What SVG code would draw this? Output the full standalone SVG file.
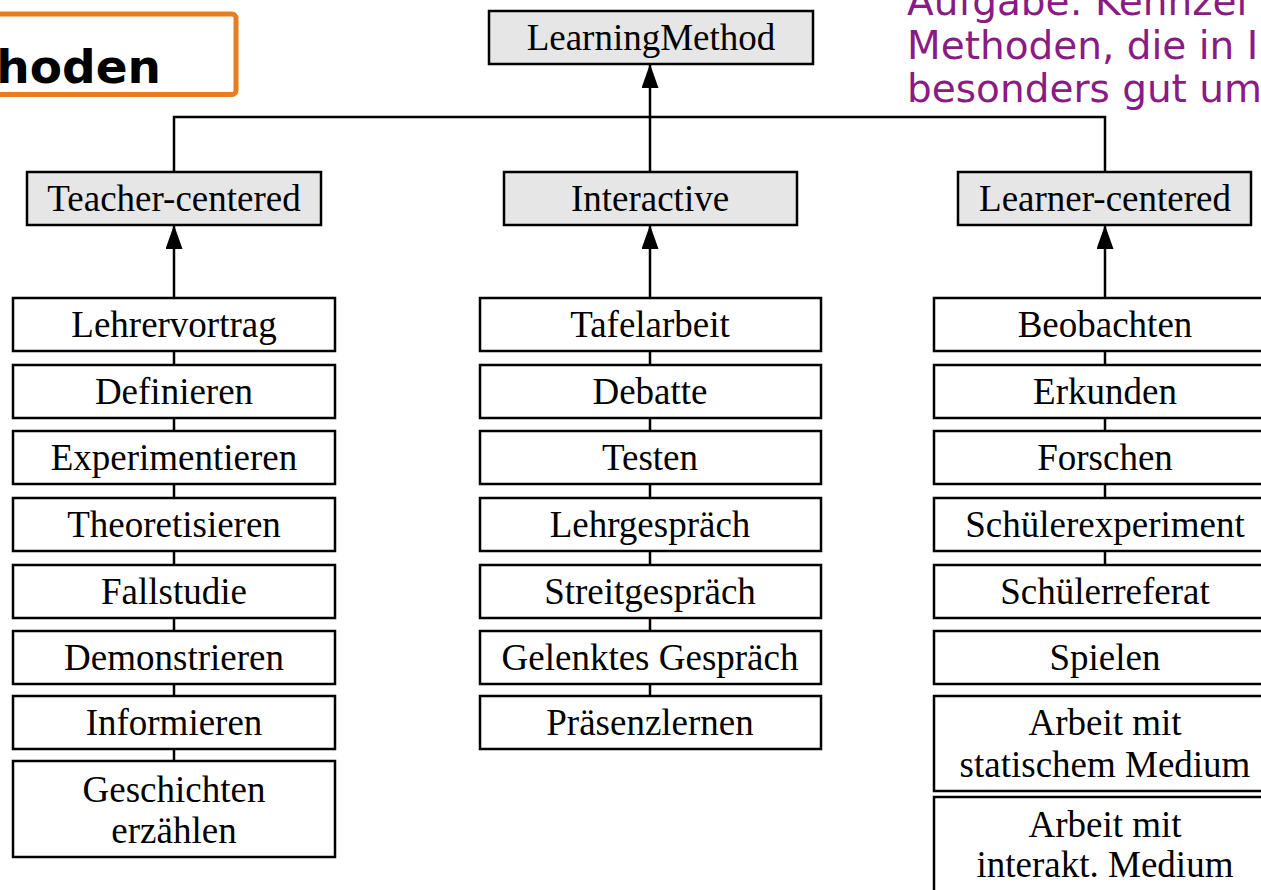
<svg xmlns="http://www.w3.org/2000/svg" width="1261" height="890" viewBox="0 0 1261 890">
<defs>
<style>
.box{fill:#ffffff;stroke:#000;stroke-width:2.5}
.cat{fill:#e6e6e6;stroke:#000;stroke-width:2.5}
.t{font-family:"Liberation Serif","Times New Roman",serif;font-size:37px;fill:#000;text-anchor:middle}
.ln{fill:none;stroke:#000;stroke-width:2.5}
.pur{font-family:"DejaVu Sans",Verdana,sans-serif;font-size:39px;fill:#8a1a84}
</style>
<marker id="arr" viewBox="0 0 24 17" markerWidth="24" markerHeight="17" refX="24" refY="8.5" orient="auto" markerUnits="userSpaceOnUse">
<path d="M0,0 L24,8.5 L0,17 z" fill="#000"/>
</marker>
</defs>
<rect width="1261" height="890" fill="#fff"/>

<g id="title">
<rect x="-20" y="14" width="256" height="80.5" rx="4" fill="none" stroke="#e87d1e" stroke-width="5"/>
<text x="161" y="83" font-family="'DejaVu Sans',Verdana,sans-serif" font-weight="bold" font-size="47" text-anchor="end" fill="#000">hoden</text>
</g>

<g id="task">
<text class="pur" x="907" y="15">Aufgabe: Kennzei</text>
<text class="pur" x="907" y="59">Methoden, die in I</text>
<text class="pur" x="907" y="102">besonders gut um</text>
</g>

<g id="connectors">
<path class="ln" d="M174,172 V117 H1105 V172"/>
<line class="ln" x1="650" y1="172" x2="650" y2="64" marker-end="url(#arr)"/>
<line class="ln" x1="174" y1="298" x2="174" y2="225" marker-end="url(#arr)"/>
<line class="ln" x1="650" y1="298" x2="650" y2="225" marker-end="url(#arr)"/>
<line class="ln" x1="1105" y1="298" x2="1105" y2="225" marker-end="url(#arr)"/>
<path class="ln" d="M174,351 V365 M174,418 V431 M174,484 V498 M174,551 V565 M174,618 V631 M174,684 V696 M174,749 V761"/>
<path class="ln" d="M650,351 V365 M650,418 V431 M650,484 V498 M650,551 V565 M650,618 V631 M650,684 V696"/>
<path class="ln" d="M1105,351 V365 M1105,418 V431 M1105,484 V498 M1105,551 V565"/>
</g>

<g id="learningmethod"><rect class="cat" x="489" y="11" width="324" height="53"/><text class="t" x="651" y="50">LearningMethod</text></g>
<g id="teacher-centered"><rect class="cat" x="27" y="172" width="294" height="53"/><text class="t" x="174" y="211">Teacher-centered</text></g>
<g id="interactive"><rect class="cat" x="504" y="172" width="293" height="53"/><text class="t" x="650" y="211">Interactive</text></g>
<g id="learner-centered"><rect class="cat" x="958" y="172" width="293" height="53"/><text class="t" x="1105" y="211">Learner-centered</text></g>

<g id="lehrervortrag"><rect class="box" x="13" y="298" width="322" height="53"/><text class="t" x="174" y="337">Lehrervortrag</text></g>
<g id="definieren"><rect class="box" x="13" y="365" width="322" height="53"/><text class="t" x="174" y="404">Definieren</text></g>
<g id="experimentieren"><rect class="box" x="13" y="431" width="322" height="53"/><text class="t" x="174" y="470">Experimentieren</text></g>
<g id="theoretisieren"><rect class="box" x="13" y="498" width="322" height="53"/><text class="t" x="174" y="537">Theoretisieren</text></g>
<g id="fallstudie"><rect class="box" x="13" y="565" width="322" height="53"/><text class="t" x="174" y="604">Fallstudie</text></g>
<g id="demonstrieren"><rect class="box" x="13" y="631" width="322" height="53"/><text class="t" x="174" y="670">Demonstrieren</text></g>
<g id="informieren"><rect class="box" x="13" y="696" width="322" height="53"/><text class="t" x="174" y="735">Informieren</text></g>
<g id="geschichten"><rect class="box" x="13" y="761" width="322" height="96"/><text class="t" x="174" y="802">Geschichten</text><text class="t" x="174" y="843">erzählen</text></g>

<g id="tafelarbeit"><rect class="box" x="480" y="298" width="341" height="53"/><text class="t" x="650" y="337">Tafelarbeit</text></g>
<g id="debatte"><rect class="box" x="480" y="365" width="341" height="53"/><text class="t" x="650" y="404">Debatte</text></g>
<g id="testen"><rect class="box" x="480" y="431" width="341" height="53"/><text class="t" x="650" y="470">Testen</text></g>
<g id="lehrgespraech"><rect class="box" x="480" y="498" width="341" height="53"/><text class="t" x="650" y="537">Lehrgespräch</text></g>
<g id="streitgespraech"><rect class="box" x="480" y="565" width="341" height="53"/><text class="t" x="650" y="604">Streitgespräch</text></g>
<g id="gelenktes"><rect class="box" x="480" y="631" width="341" height="53"/><text class="t" x="650" y="670">Gelenktes Gespräch</text></g>
<g id="praesenzlernen"><rect class="box" x="480" y="696" width="341" height="53"/><text class="t" x="650" y="735">Präsenzlernen</text></g>

<g id="beobachten"><rect class="box" x="934" y="298" width="342" height="53"/><text class="t" x="1105" y="337">Beobachten</text></g>
<g id="erkunden"><rect class="box" x="934" y="365" width="342" height="53"/><text class="t" x="1105" y="404">Erkunden</text></g>
<g id="forschen"><rect class="box" x="934" y="431" width="342" height="53"/><text class="t" x="1105" y="470">Forschen</text></g>
<g id="schuelerexperiment"><rect class="box" x="934" y="498" width="342" height="53"/><text class="t" x="1105" y="537">Schülerexperiment</text></g>
<g id="schuelerreferat"><rect class="box" x="934" y="565" width="342" height="53"/><text class="t" x="1105" y="604">Schülerreferat</text></g>
<g id="spielen"><rect class="box" x="934" y="631" width="342" height="53"/><text class="t" x="1105" y="670">Spielen</text></g>
<g id="statisch"><rect class="box" x="934" y="696" width="342" height="95"/><text class="t" x="1105" y="735">Arbeit mit</text><text class="t" x="1105" y="777">statischem Medium</text></g>
<g id="interakt"><rect class="box" x="934" y="797" width="342" height="110"/><text class="t" x="1105" y="837">Arbeit mit</text><text class="t" x="1105" y="877">interakt. Medium</text></g>
</svg>
